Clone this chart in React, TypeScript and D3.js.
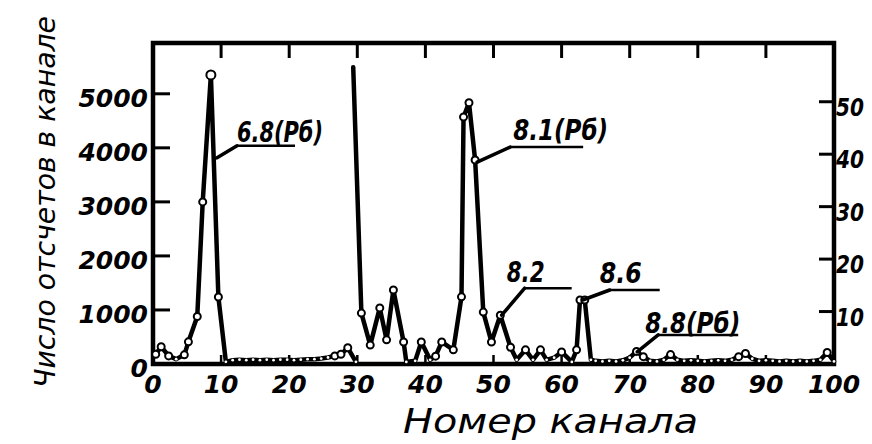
import React from 'react';
import * as d3 from 'd3';

const width = 872;
const height = 444;

// channels 0..30, plotted against the left axis (counts)
const lowChannels = [0.4, 1.2, 2.3, 3.4, 4.6, 5.2, 6.5, 7.3, 8.5, 9.6, 10.7, 11.7, 12.7, 13.7, 14.7, 15.7, 16.7, 17.7, 18.7, 19.7, 20.7, 21.7, 22.7, 23.7, 24.7, 25.7, 26.7, 27.6, 28.6, 29.8];
const lowCounts = [180, 320, 150, 90, 170, 410, 880, 3000, 5350, 1240, 40, 70, 80, 70, 80, 70, 80, 70, 80, 80, 70, 80, 90, 90, 100, 120, 150, 180, 300, 40];

// channels 29..100, plotted against the right axis
const highChannels = [29.4, 30.6, 31.9, 33.3, 34.3, 35.3, 36.8, 37.2, 38.5, 39.4, 40.7, 41.5, 42.4, 44.1, 45.3, 45.6, 46.4, 47.3, 48.5, 49.7, 51, 52.5, 53.4, 54.7, 55.8, 56.9, 57.8, 58.9, 60, 61.5, 62.2, 62.7, 63.4, 64.3, 65, 66, 67, 68, 69, 70, 71, 72, 73, 74, 75, 76, 77, 78, 79, 80, 81, 82, 83, 84, 85, 86, 87, 88, 89, 90, 91, 92, 93, 94, 95, 96, 97, 98, 99, 100];
const highCounts = [56.6, 9.7, 3.6, 10.7, 4.6, 14.1, 4.2, 0.4, 0.6, 4.2, 0.8, 1.5, 4.2, 2.7, 12.8, 47.1, 49.8, 38.9, 9.9, 4.2, 9.3, 3.2, 0.8, 2.7, 0.8, 2.7, 0.8, 1.2, 2.3, 0.4, 2.7, 12.2, 12.2, 0.8, 0.6, 0.5, 0.6, 0.5, 0.7, 1.2, 2.4, 1.4, 0.6, 0.5, 0.8, 1.8, 0.8, 0.6, 0.7, 0.6, 0.5, 0.6, 0.7, 0.6, 0.8, 1.4, 2.0, 1.0, 0.6, 0.7, 0.6, 0.5, 0.6, 0.5, 0.6, 0.5, 0.6, 0.8, 2.2, 0.5];

const xTicks = [0, 10, 20, 30, 40, 50, 60, 70, 80, 90, 100];
const leftTicks = [0, 1000, 2000, 3000, 4000, 5000];
const rightTicks = [10, 20, 30, 40, 50];

// peak labels: text, axis, anchor channel/value on the curve
const peakLabels = ['6.8(Рб)', '8.1(Рб)', '8.2', '8.6', '8.8(Рб)'];
const peakAxis = ['left', 'right', 'right', 'right', 'right'];
const peakChannel = [9.4, 47.6, 51.2, 63.1, 71.1];
const peakValue = [3815, 38.5, 9.3, 12.2, 2.3];

const font = '"DejaVu Sans", sans-serif';

export default function App() {
  const x = d3.scaleLinear().domain([0, 100]).range([153, 834]);
  const yLeft = d3.scaleLinear().domain([0, 5940]).range([364, 43]);
  const yRight = d3.scaleLinear().domain([0, 61.2]).range([364, 43]);

  const low = lowChannels.map((c, i) => ({ c, v: lowCounts[i] }));
  const high = highChannels.map((c, i) => ({ c, v: highCounts[i] }));

  const lowLine = d3.line<{ c: number; v: number }>().x(d => x(d.c)).y(d => yLeft(d.v));
  const highLine = d3.line<{ c: number; v: number }>().x(d => x(d.c)).y(d => yRight(d.v));

  // label placement relative to the anchor point (px)
  const labelOffsets = [
    { lx: 20, ly: -12, tx: 20, ty: -16, ul: 58, tw: 86 },
    { lx: 33, ly: -15, tx: 36, ty: -22, ul: 73, tw: 95 },
    { lx: 23, ly: -27, tx: 5, ty: -33, ul: 47, tw: 38 },
    { lx: 27, ly: -10, tx: 17, ty: -17, ul: 50, tw: 42 },
    { lx: 21, ly: -17, tx: 8, ty: -19, ul: 80, tw: 95 },
  ];

  return (
    <svg width={width} height={height} style={{ position: 'absolute', left: 0, top: 0, background: '#fff' }}>
      {/* frame */}
      <rect x={x(0)} y={43} width={x(100) - x(0)} height={364 - 43} fill="none" stroke="#000" strokeWidth={4.5} />

      {/* top and bottom inward ticks */}
      {xTicks.slice(1, -1).map(t => (
        <g key={'xt' + t}>
          <line x1={x(t)} x2={x(t)} y1={43} y2={58} stroke="#000" strokeWidth={3} />
          <line x1={x(t)} x2={x(t)} y1={364} y2={355} stroke="#000" strokeWidth={2.5} />
        </g>
      ))}
      {xTicks.map(t => (
        <text key={'xl' + t} x={x(t)} y={393} textAnchor="middle" fontFamily={font} fontStyle="italic" fontWeight="bold" fontSize={25}>
          {t}
        </text>
      ))}

      {/* left axis */}
      {leftTicks.map(t => (
        <g key={'yl' + t}>
          {t > 0 && <line x1={x(0)} x2={x(0) + 17} y1={yLeft(t)} y2={yLeft(t)} stroke="#000" strokeWidth={3} />}
          <text x={148} y={yLeft(t) + 13} textAnchor="end" fontFamily={font} fontStyle="italic" fontWeight="bold" fontSize={25}>
            {t}
          </text>
        </g>
      ))}

      {/* right axis */}
      {rightTicks.map(t => (
        <g key={'yr' + t}>
          <line x1={x(100)} x2={x(100) - 15} y1={yRight(t)} y2={yRight(t)} stroke="#000" strokeWidth={3} />
          <text x={836} y={yRight(t) + 14} textAnchor="start" fontFamily={font} fontStyle="italic" fontWeight="bold" fontSize={24} textLength={28} lengthAdjust="spacingAndGlyphs">
            {t}
          </text>
        </g>
      ))}

      {/* curves */}
      <path d={lowLine(low) || ''} fill="none" stroke="#000" strokeWidth={4.5} strokeLinejoin="round" strokeLinecap="round" />
      <path d={highLine(high) || ''} fill="none" stroke="#000" strokeWidth={4.5} strokeLinejoin="round" strokeLinecap="round" />

      {low.map((d, i) => (
        d.v > 120
          ? <circle key={'lc' + i} cx={x(d.c)} cy={yLeft(d.v)} r={d.v > 5000 ? 4.5 : 3.5} fill="#fff" stroke="#000" strokeWidth={2} />
          : <circle key={'lc' + i} cx={x(d.c)} cy={yLeft(d.v)} r={1.4} fill="#fff" />
      ))}
      {high.slice(1).map((d, i) => (
        d.v > 1.2
          ? <circle key={'hc' + i} cx={x(d.c)} cy={yRight(d.v)} r={3.5} fill="#fff" stroke="#000" strokeWidth={2} />
          : <circle key={'hc' + i} cx={x(d.c)} cy={yRight(d.v)} r={1.4} fill="#fff" />
      ))}

      {/* peak labels */}
      {peakLabels.map((label, i) => {
        const ax = x(peakChannel[i]);
        const ay = peakAxis[i] === 'left' ? yLeft(peakValue[i]) : yRight(peakValue[i]);
        const o = labelOffsets[i];
        const ux = ax + o.lx;
        const uy = ay + o.ly;
        return (
          <g key={'pk' + i}>
            <line x1={ax} y1={ay} x2={ux} y2={uy} stroke="#000" strokeWidth={3.5} strokeLinecap="round" />
            <line x1={ux} y1={uy} x2={ux + o.ul} y2={uy} stroke="#000" strokeWidth={2.5} />
            <text x={ax + o.tx} y={ay + o.ty} fontFamily={font} fontStyle="italic" fontWeight="bold" fontSize={29} textLength={o.tw} lengthAdjust="spacingAndGlyphs">
              {label}
            </text>
          </g>
        );
      })}

      {/* axis titles */}
      <text x={403} y={433} fontFamily={font} fontStyle="italic" fontSize={33} textLength={295} lengthAdjust="spacingAndGlyphs">
        Номер канала
      </text>
      <text transform="translate(55,388) rotate(-90)" fontFamily={font} fontStyle="italic" fontSize={29} textLength={372} lengthAdjust="spacingAndGlyphs">
        Число отсчетов в канале
      </text>
    </svg>
  );
}
